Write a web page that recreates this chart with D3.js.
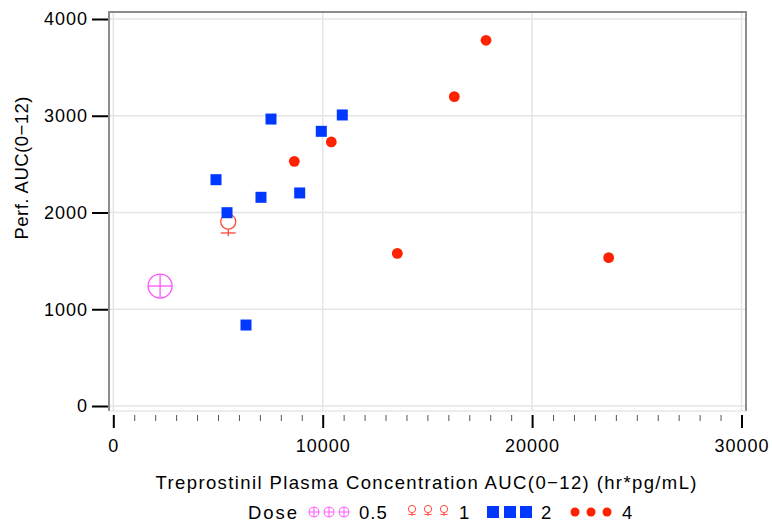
<!DOCTYPE html>
<html><head><meta charset="utf-8">
<script src="https://cdn.jsdelivr.net/npm/d3@7"></script>
<style>body{margin:0;background:#fff}svg{display:block}text{font-family:"Liberation Sans",Arial,sans-serif;fill:#000}</style>
</head><body>
<svg id="c" width="772" height="524"></svg>
<script>
const xTicks = [0, 10000, 20000, 30000];
const yTicks = [0, 1000, 2000, 3000, 4000];
const doseLabels = ["0.5", "1", "2", "4"];
const dose05X = [2235];
const dose05Y = [1240];
const dose1X = [5490];
const dose1Y = [1905];
const dose2X = [4905, 5430, 6337, 7053, 7531, 8901, 9933, 10936];
const dose2Y = [2339, 1998, 837, 2157, 2966, 2202, 2839, 3008];
const dose4X = [8644, 10411, 13563, 16285, 17799, 23657];
const dose4Y = [2529, 2729, 1578, 3197, 3780, 1533];

const cMag = "#ff55ff", cFem = "#ff4a3a", cBlue = "#0038ff", cRed = "#ff2200";
const svg = d3.select("#c");
const x = d3.scaleLinear().domain([0, 30000]).range([113.3, 741.5]);
const y = d3.scaleLinear().domain([0, 4000]).range([406, 19]);
const L = 109, R = 746, T = 12, B = 411;
const FF = '"Liberation Sans",Arial,sans-serif';

// gridlines
const g = svg.append("g");
g.selectAll("line.gx").data(xTicks).join("line")
  .attr("x1", d => x(d)).attr("x2", d => x(d)).attr("y1", T).attr("y2", B)
  .attr("stroke", "#e4e4e4").attr("stroke-width", 1.5);
g.selectAll("line.gy").data(yTicks).join("line")
  .attr("y1", d => y(d)).attr("y2", d => y(d)).attr("x1", L).attr("x2", R)
  .attr("stroke", "#e4e4e4").attr("stroke-width", 1.5);

// frame
svg.append("path").attr("d", `M${L},${B}V${T}H${R}V${B}`)
  .attr("fill", "none").attr("stroke", "#8c8c8c").attr("stroke-width", 2);
svg.append("line").attr("x1", L).attr("x2", R).attr("y1", B).attr("y2", B)
  .attr("stroke", "#dcdcdc").attr("stroke-width", 1);

// x axis
const minor = d3.range(0, 30001, 1000).filter(v => v % 10000 !== 0);
const xMinor = svg.append("g").attr("transform", `translate(0,${B + 4})`)
  .call(d3.axisBottom(x).tickValues(minor).tickSize(6).tickFormat(""));
xMinor.select(".domain").remove();
xMinor.selectAll("line").attr("stroke", "#555").attr("stroke-width", 1);
const xAx = svg.append("g").attr("transform", `translate(0,${B + 4})`)
  .call(d3.axisBottom(x).tickValues(xTicks).tickSize(13).tickPadding(11).tickFormat(d3.format("d")));
xAx.select(".domain").remove();
xAx.selectAll("line").attr("stroke", "#000").attr("stroke-width", 2);
xAx.selectAll("text").attr("font-size", 18).style("font-family", FF).style("letter-spacing", "1px");

// y axis
const yAx = svg.append("g").attr("transform", `translate(${L - 1},0)`)
  .call(d3.axisLeft(y).tickValues(yTicks).tickSize(16).tickPadding(4).tickFormat(d3.format("d")));
yAx.select(".domain").remove();
yAx.selectAll("line").attr("stroke", "#000").attr("stroke-width", 2);
yAx.selectAll("text").attr("font-size", 18).style("font-family", FF).style("letter-spacing", "1px");

// titles
svg.append("text").attr("x", 426).attr("y", 489).attr("text-anchor", "middle")
  .attr("font-size", 18.5).attr("textLength", 541).attr("lengthAdjust", "spacing")
  .text("Treprostinil Plasma Concentration AUC(0\u221212) (hr*pg/mL)");
svg.append("text").attr("transform", "translate(28,168) rotate(-90)").attr("text-anchor", "middle")
  .attr("font-size", 18.5).attr("textLength", 143).attr("lengthAdjust", "spacing")
  .text("Perf. AUC(0\u221212)");

// markers
function crossCircle(sel, r, col, sw) {
  sel.append("circle").attr("r", r).attr("fill", "none").attr("stroke", col).attr("stroke-width", sw);
  sel.append("line").attr("x1", -r).attr("x2", r).attr("stroke", col).attr("stroke-width", sw);
  sel.append("line").attr("y1", -r).attr("y2", r).attr("stroke", col).attr("stroke-width", sw);
}
function female(sel, r, col, sw) {
  sel.append("circle").attr("r", r).attr("fill", "none").attr("stroke", col).attr("stroke-width", sw);
  sel.append("line").attr("y1", r).attr("y2", r * 1.95).attr("stroke", col).attr("stroke-width", sw);
  sel.append("line").attr("x1", -r).attr("x2", r).attr("y1", r * 1.5).attr("y2", r * 1.5).attr("stroke", col).attr("stroke-width", sw);
}
const pts = (xs, ys) => xs.map((v, i) => [v, ys[i]]);

svg.append("g").selectAll("g").data(pts(dose05X, dose05Y)).join("g")
  .attr("transform", d => `translate(${x(d[0])},${y(d[1])})`)
  .each(function () { crossCircle(d3.select(this), 12, cMag, 1.3); });
svg.append("g").selectAll("g").data(pts(dose1X, dose1Y)).join("g")
  .attr("transform", d => `translate(${x(d[0])},${y(d[1])})`)
  .each(function () { female(d3.select(this), 7.5, cFem, 1.3); });
svg.append("g").selectAll("rect").data(pts(dose2X, dose2Y)).join("rect")
  .attr("x", d => x(d[0]) - 5.5).attr("y", d => y(d[1]) - 5.5).attr("width", 11).attr("height", 11)
  .attr("fill", cBlue);
svg.append("g").selectAll("circle").data(pts(dose4X, dose4Y)).join("circle")
  .attr("cx", d => x(d[0])).attr("cy", d => y(d[1])).attr("r", 5.4).attr("fill", cRed);

// legend
const ly = 512;
svg.append("text").attr("x", 248).attr("y", ly + 7).attr("font-size", 18.5)
  .attr("textLength", 49).attr("lengthAdjust", "spacing").text("Dose");
const leg = svg.append("g");
[314, 329, 344].forEach(cx => crossCircle(leg.append("g").attr("transform", `translate(${cx},${ly})`), 5, cMag, 1));
[412, 428, 444].forEach(cx => female(leg.append("g").attr("transform", `translate(${cx},${ly - 3})`), 3.6, cFem, 1));
[493, 510, 526].forEach(cx => leg.append("rect").attr("x", cx - 6).attr("y", ly - 6).attr("width", 12).attr("height", 12).attr("fill", cBlue));
[575, 591, 607].forEach(cx => leg.append("circle").attr("cx", cx).attr("cy", ly).attr("r", 4.5).attr("fill", cRed));
const lx = [359, 459, 541, 622];
doseLabels.forEach((t, i) => svg.append("text").attr("x", lx[i]).attr("y", ly + 7).attr("font-size", 18.5)
  .style("letter-spacing", "1px").text(t));
</script>
</body></html>
